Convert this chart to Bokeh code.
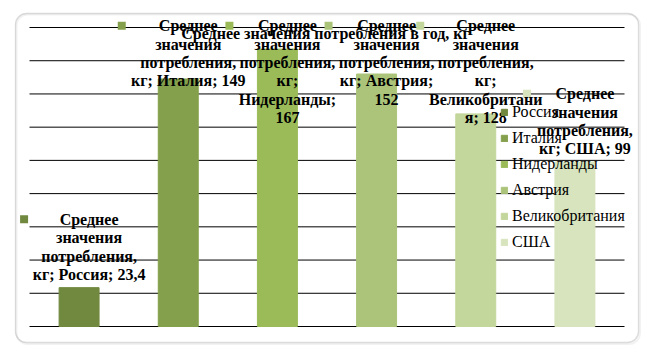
from bokeh.plotting import figure
from bokeh.models import Range1d, Legend, LegendItem, BoxAnnotation, Label, ColumnDataSource
from bokeh.core.properties import value
from bokeh.embed import file_html
from bokeh.resources import INLINE

# ---- data ----
title_text = "Среднее значения потребления в год, кг"
series_name = "Среднее значения потребления, кг"
categories = ["Россия", "Италия", "Нидерланды", "Австрия", "Великобритания", "США"]
values = [23.4, 149, 167, 152, 128, 99]
value_labels = ["23,4", "149", "167", "152", "128", "99"]
grid_values = [0, 20, 40, 60, 80, 100, 120, 140, 160, 180]
label_texts = [
    "Среднее\nзначения\nпотребления,\nкг; Россия; 23,4",
    "Среднее\nзначения\nпотребления,\nкг; Италия; 149",
    "Среднее\nзначения\nпотребления,\nкг;\nНидерланды;\n167",
    "Среднее\nзначения\nпотребления,\nкг; Австрия;\n152",
    "Среднее\nзначения\nпотребления,\nкг;\nВеликобритани\nя; 128",
    "Среднее\nзначения\nпотребления,\nкг; США; 99",
]
colors = ["#71893F", "#84A04C", "#9BBB59", "#ABC47A", "#C3D69B", "#D7E4BD"]

# ---- layout constants (pixels) ----
W, H = 656, 358
X0PX, XK = 29.0, 595.0 / 6
Y0PX, YK = 326.0, 299.0 / 180
FONT = "Liberation Serif"
FS = 16
LH = 18.4
label_widths = [112, 115, 98, 98, 113, 98]


def x_of(px):
    return (px - X0PX) / XK


def y_of(py):
    return (Y0PX - py) / YK


p = figure(width=W, height=H, output_backend="svg", toolbar_location=None,
           x_axis_type=None, y_axis_type=None, min_border=0,
           x_range=Range1d(x_of(0), x_of(W)), y_range=Range1d(y_of(H), y_of(0)))
p.outline_line_color = None
p.xgrid.visible = False
p.ygrid.visible = False
p.background_fill_color = "white"
p.border_fill_color = "white"

# rounded chart border (with faint shadow)
p.add_layout(BoxAnnotation(left=x_of(16), right=x_of(639.5), top=y_of(14), bottom=y_of(343.5),
                           fill_alpha=0, line_color="#d4d4d4", line_width=2, border_radius=11))
p.add_layout(BoxAnnotation(left=x_of(15), right=x_of(638), top=y_of(13), bottom=y_of(342),
                           fill_alpha=0, line_color="#8c8c8c", line_width=1.3, border_radius=11))

# gridlines
n = len(categories)
p.segment(x0=[0] * len(grid_values), x1=[n] * len(grid_values), y0=grid_values, y1=grid_values,
          line_color="black", line_width=1)

# bars
xs = [i + 0.5 for i in range(n)]
src = ColumnDataSource(dict(x=xs, top=values, color=colors, cat=categories))
bars = p.vbar(x="x", top="top", width=0.403, color="color", source=src)

# data labels (one text row per wrapped line)
tx, ty, tt = [], [], []
kx, ky = [], []
for i, (v, t) in enumerate(zip(values, label_texts)):
    lines = t.split("\n")
    nl = len(lines)
    bar_top_px = Y0PX - v * YK
    top_px = bar_top_px - 4 - nl * LH
    if top_px < 16:
        top_px = 16
    cx_px = X0PX + xs[i] * XK + 10
    for j, line in enumerate(lines):
        tx.append(x_of(cx_px))
        ty.append(y_of(top_px + (j + 0.5) * LH))
        tt.append(line)
    kx.append(x_of(cx_px - label_widths[i] / 2 - 9))
    ky.append(y_of(top_px + LH / 2))

p.rect(x=kx, y=ky, width=8, height=8, width_units="screen", height_units="screen",
       fill_color=colors, line_color=None)
p.text(x=tx, y=ty, text=tt, text_align="center", text_baseline="middle",
       text_font=value(FONT), text_font_size=f"{FS}px", text_font_style="bold",
       text_color="black")

# chart title
p.add_layout(Label(x=x_of(325), y=y_of(33), text=title_text, text_align="center",
                   text_baseline="middle", text_font=FONT, text_font_size=f"{FS}px",
                   text_font_style="bold", text_color="black"))

# legend
items = [LegendItem(label=c, renderers=[bars], index=i) for i, c in enumerate(categories)]
legend = Legend(items=items, location=(500, 106), padding=0, margin=0,
                glyph_width=8, glyph_height=8, label_standoff=4, spacing=6, label_height=20,
                label_text_font=FONT, label_text_font_size=f"{FS}px",
                label_text_color="black", background_fill_alpha=0, border_line_color=None)
p.add_layout(legend, "center")

open("out.html", "w").write(file_html(p, INLINE))
